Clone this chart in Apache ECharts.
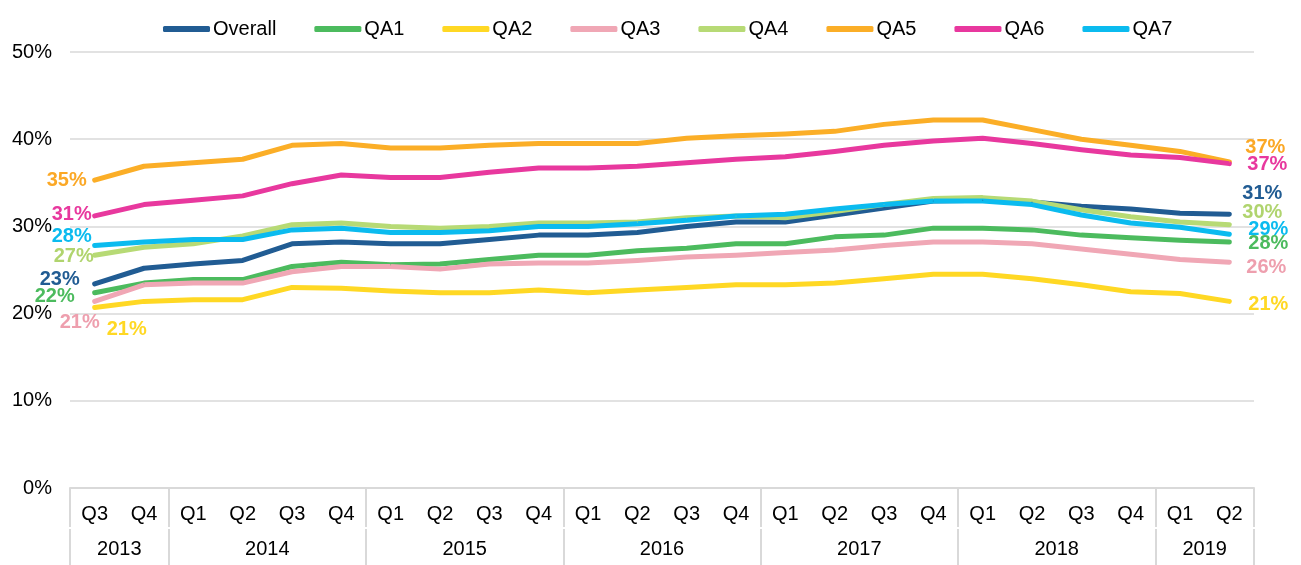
<!DOCTYPE html>
<html>
<head>
<meta charset="utf-8">
<script src="https://cdn.jsdelivr.net/npm/echarts@6/dist/echarts.min.js"></script>
<style>
html,body{margin:0;padding:0;background:#fff;}
#chart{width:1301px;height:565px;}
</style>
</head>
<body>
<div id="chart"></div>
<script>
// ---- data ----
const quarters = ['Q3','Q4','Q1','Q2','Q3','Q4','Q1','Q2','Q3','Q4','Q1','Q2','Q3','Q4','Q1','Q2','Q3','Q4','Q1','Q2','Q3','Q4','Q1','Q2'];
const years = ['2013','2014','2015','2016','2017','2018','2019'];
const quartersPerYear = [2,4,4,4,4,4,2];
const yTicks = [0,10,20,30,40,50];

const seriesNames = ['Overall','QA1','QA2','QA3','QA4','QA5','QA6','QA7'];
const overall = [23.4,25.2,25.7,26.1,28.0,28.2,28.0,28.0,28.5,29.0,29.0,29.3,30.0,30.5,30.5,31.3,32.1,32.9,33.0,32.8,32.3,32.0,31.5,31.4];
const qa1 = [22.4,23.5,23.9,23.9,25.4,25.9,25.6,25.7,26.2,26.7,26.7,27.2,27.5,28.0,28.0,28.8,29.0,29.8,29.8,29.6,29.0,28.7,28.4,28.2];
const qa2 = [20.7,21.4,21.6,21.6,23.0,22.9,22.6,22.4,22.4,22.7,22.4,22.7,23.0,23.3,23.3,23.5,24.0,24.5,24.5,24.0,23.3,22.5,22.3,21.4];
const qa3 = [21.4,23.3,23.5,23.5,24.8,25.4,25.4,25.1,25.7,25.8,25.8,26.1,26.5,26.7,27.0,27.3,27.8,28.2,28.2,28.0,27.4,26.8,26.2,25.9];
const qa4 = [26.7,27.6,28.0,28.9,30.2,30.4,30.0,29.8,30.0,30.4,30.4,30.5,31.0,31.2,31.0,31.7,32.5,33.2,33.3,32.9,31.9,31.1,30.5,30.2];
const qa5 = [35.3,36.9,37.3,37.7,39.3,39.5,39.0,39.0,39.3,39.5,39.5,39.5,40.1,40.4,40.6,40.9,41.7,42.2,42.2,41.1,40.0,39.3,38.6,37.4];
const qa6 = [31.2,32.5,33.0,33.5,34.9,35.9,35.6,35.6,36.2,36.7,36.7,36.9,37.3,37.7,38.0,38.6,39.3,39.8,40.1,39.5,38.8,38.2,37.9,37.2];
const qa7 = [27.8,28.2,28.5,28.5,29.6,29.8,29.3,29.3,29.5,30.0,30.0,30.3,30.7,31.2,31.4,32.0,32.5,32.9,32.9,32.5,31.3,30.4,29.9,29.1];

// ---- styles ----
const colors = ['#215C93','#4CBB5E','#FFD824','#F0A7B5','#B7DA75','#FBAE27','#E8389E','#0BBBEF'];
const labelColors = ['#215C93','#4CBB5E','#FFD824','#EE9FAE','#B0D46E','#FBA826','#E8389E','#0BBBEF'];
// [first label offset, last label offset]
const labelOffsets = [
  [[-35,-4],[33,-21]],
  [[-40,4],[39,1]],
  [[32,22],[39,3]],
  [[-15,21],[37,5]],
  [[-21,1],[33,-12]],
  [[-28,0],[36,-14]],
  [[-23,-1],[38,1]],
  [[-23,-9],[39,-5]]
];
const allValues = [overall,qa1,qa2,qa3,qa4,qa5,qa6,qa7];

// year boundaries / centres on a 0..N scale
const bounds = [0];
quartersPerYear.forEach(n => bounds.push(bounds[bounds.length-1] + n));
const centers = quartersPerYear.map((n,i) => bounds[i] + n/2);

const FONT = 'Liberation Sans, Arial, sans-serif';

const series = allValues.map((vals, s) => ({
  name: seriesNames[s],
  type: 'line',
  xAxisIndex: 0,
  yAxisIndex: 0,
  symbol: 'circle',
  symbolSize: 1,
  showSymbol: true,
  lineStyle: {width: 5, color: colors[s], cap: 'round', join: 'round'},
  itemStyle: {color: colors[s]},
  emphasis: {disabled: true},
  label: {show: false},
  data: vals.map((v, i) => {
    if (i === 0 || i === vals.length - 1) {
      return {
        value: v,
        label: {
          show: true,
          position: 'inside',
          offset: labelOffsets[s][i === 0 ? 0 : 1],
          formatter: p => Math.round(p.value) + '%',
          color: labelColors[s],
          fontFamily: FONT,
          fontWeight: 'bold',
          fontSize: 20
        }
      };
    }
    return v;
  })
}));

const chart = echarts.init(document.getElementById('chart'), null, {renderer: 'canvas'});
chart.setOption({
  animation: false,
  backgroundColor: '#fff',
  color: colors,
  legend: {
    data: seriesNames,
    left: 158,
    top: 14,
    icon: 'roundRect',
    itemWidth: 47,
    itemHeight: 6,
    itemGap: 38,
    textStyle: {fontFamily: FONT, fontSize: 20, color: '#000', padding: [0,0,0,-2]}
  },
  grid: {left: 70, right: 47, top: 52, bottom: 77, containLabel: false},
  xAxis: [
    {
      type: 'category',
      data: quarters,
      boundaryGap: true,
      axisLine: {show: true, lineStyle: {color: '#d9d9d9', width: 2}},
      axisTick: {show: false},
      axisLabel: {interval: 0, margin: 16, fontFamily: FONT, fontSize: 20, color: '#000'},
      splitLine: {show: false}
    },
    {
      type: 'value',
      min: 0,
      max: quarters.length,
      position: 'bottom',
      offset: 0,
      axisLine: {show: false},
      axisTick: {show: true, customValues: bounds, length: 39, lineStyle: {color: '#d9d9d9', width: 2}},
      axisLabel: {show: false},
      splitLine: {show: false}
    },
    {
      type: 'value',
      min: 0,
      max: quarters.length,
      position: 'bottom',
      offset: 41,
      axisLine: {show: false},
      axisTick: {show: true, customValues: bounds, length: 36, lineStyle: {color: '#d9d9d9', width: 2}},
      axisLabel: {
        show: true,
        customValues: centers,
        margin: 10,
        fontFamily: FONT, fontSize: 20, color: '#000',
        formatter: v => {
          const idx = centers.findIndex(c => Math.abs(c - v) < 1e-6);
          return idx >= 0 ? years[idx] : '';
        }
      },
      splitLine: {show: false}
    }
  ],
  yAxis: {
    type: 'value',
    min: yTicks[0],
    max: yTicks[yTicks.length-1],
    interval: 10,
    axisLine: {show: false},
    axisTick: {show: false},
    axisLabel: {formatter: '{value}%', margin: 18, fontFamily: FONT, fontSize: 20, color: '#000'},
    splitLine: {show: true, lineStyle: {color: '#d9d9d9', width: 1.5}}
  },
  series: series
});
</script>
</body>
</html>
